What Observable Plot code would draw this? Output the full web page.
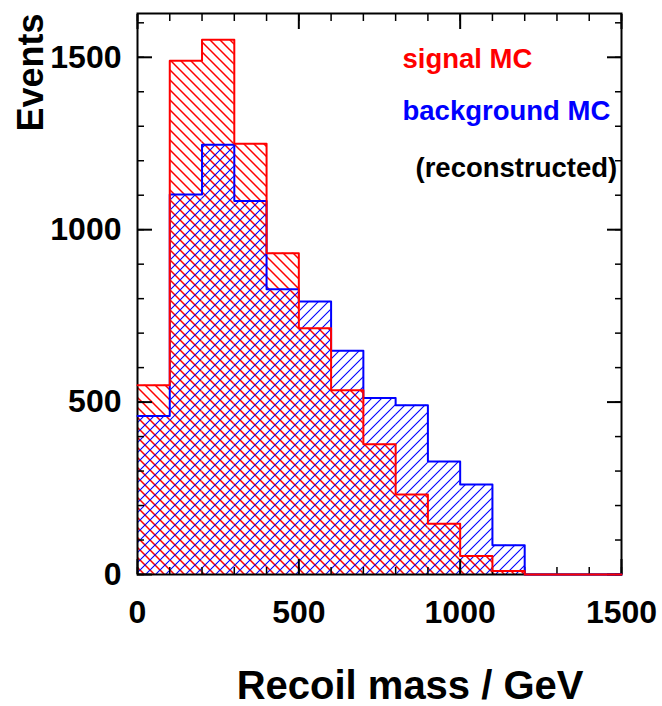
<!DOCTYPE html>
<html><head><meta charset="utf-8">
<script src="https://cdn.jsdelivr.net/npm/d3@7"></script>
<script src="https://cdn.jsdelivr.net/npm/@observablehq/plot@0.6"></script>
<style>body{margin:0;background:#fff}</style>
</head><body><div id="chart"></div>
<script>
// Recoil mass bins (GeV)
const binLow  = [0, 100, 200, 300, 400, 500, 600, 700, 800, 900, 1000, 1100, 1200, 1300, 1400];
const binHigh = [100, 200, 300, 400, 500, 600, 700, 800, 900, 1000, 1100, 1200, 1300, 1400, 1500];
// Events per bin
const signalMC     = [549, 1490, 1551, 1249, 932, 714, 534, 378, 232, 147, 54, 10, 0, 0, 0];
const backgroundMC = [460, 1102, 1246, 1083, 827, 792, 649, 512, 491, 328, 261, 85, 0, 0, 0];
// Axis ticks
const xMajor = [0, 500, 1000, 1500];
const xMinor = [0,100,200,300,400,500,600,700,800,900,1000,1100,1200,1300,1400,1500];
const yMajor = [0, 500, 1000, 1500];
const yMinor = [0,100,200,300,400,500,600,700,800,900,1000,1100,1200,1300,1400,1500,1600];
const legendTexts = ["signal MC", "background MC", "(reconstructed)"];

const bins = (vals) => binLow.map((lo, i) => ({x1: lo, x2: binHigh[i], y: vals[i]}));
const steps = (vals) => [...binLow.map((lo, i) => ({x: lo, y: vals[i]})), {x: binHigh[binHigh.length - 1], y: vals[vals.length - 1]}];

const font = '"Liberation Sans", Arial, Helvetica, sans-serif';
const blank = () => "";

const chart = Plot.plot({
  width: 662, height: 706,
  marginLeft: 137, marginRight: 41, marginTop: 13, marginBottom: 132,
  style: {fontFamily: font, background: "white"},
  x: {domain: [0, 1500], label: null},
  y: {domain: [0, 1627], label: null},
  marks: [
    Plot.rectY(bins(signalMC), {x1: "x1", x2: "x2", y: "y", fill: "url(#hatchRed)"}),
    Plot.rectY(bins(backgroundMC), {x1: "x1", x2: "x2", y: "y", fill: "url(#hatchBlue)"}),
    Plot.frame({stroke: "black", strokeWidth: 2}),
    // ticks inside on all sides
    Plot.axisX({anchor: "bottom", ticks: xMinor, tickSize: -7, tickFormat: blank, label: null, strokeWidth: 1.5}),
    Plot.axisX({anchor: "bottom", ticks: xMajor, tickSize: -15, tickFormat: blank, label: null, strokeWidth: 2}),
    Plot.axisX({anchor: "top", ticks: xMinor, tickSize: -7, tickFormat: blank, label: null, strokeWidth: 1.5}),
    Plot.axisX({anchor: "top", ticks: xMajor, tickSize: -15, tickFormat: blank, label: null, strokeWidth: 2}),
    Plot.axisY({anchor: "left", ticks: yMinor, tickSize: -7, tickFormat: blank, label: null, strokeWidth: 1.5}),
    Plot.axisY({anchor: "left", ticks: yMajor, tickSize: -15, tickFormat: blank, label: null, strokeWidth: 2}),
    Plot.axisY({anchor: "right", ticks: yMinor, tickSize: -7, tickFormat: blank, label: null, strokeWidth: 1.5}),
    Plot.axisY({anchor: "right", ticks: yMajor, tickSize: -15, tickFormat: blank, label: null, strokeWidth: 2}),
    Plot.line(steps(backgroundMC), {x: "x", y: "y", curve: "step-after", stroke: "#0000ff", strokeWidth: 2}),
    Plot.line(steps(signalMC), {x: "x", y: "y", curve: "step-after", stroke: "#ff0000", strokeWidth: 2}),
    // tick labels
    Plot.axisX({anchor: "bottom", ticks: xMajor, tickSize: 0, tickPadding: 26, tickFormat: d => String(d), label: null, fontSize: 32, fontWeight: "bold", fill: "black"}),
    Plot.axisY({anchor: "left", ticks: yMajor, tickSize: 0, tickPadding: 16, tickFormat: d => String(d), label: null, fontSize: 32, fontWeight: "bold", fill: "black"}),
    // axis titles
    Plot.text(["Events"], {frameAnchor: "top-left", dx: -95, dy: 0, rotate: -90, textAnchor: "end", lineAnchor: "bottom", fontSize: 36, fontWeight: "bold", fill: "black"}),
    Plot.text(["Recoil mass / GeV"], {frameAnchor: "bottom-right", dx: -38, dy: 124, textAnchor: "end", lineAnchor: "bottom", fontSize: 40, fontWeight: "bold", fill: "black"}),
    // legend
    Plot.text([legendTexts[0]], {frameAnchor: "top-left", dx: 265, dy: 54, textAnchor: "start", lineAnchor: "bottom", fontSize: 27.5, fontWeight: "bold", fill: "#ff0000"}),
    Plot.text([legendTexts[1]], {frameAnchor: "top-left", dx: 265, dy: 106, textAnchor: "start", lineAnchor: "bottom", fontSize: 27.5, fontWeight: "bold", fill: "#0000ff"}),
    Plot.text([legendTexts[2]], {frameAnchor: "top-left", dx: 278, dy: 163, textAnchor: "start", lineAnchor: "bottom", fontSize: 27.5, fontWeight: "bold", fill: "black"})
  ]
});

const ns = "http://www.w3.org/2000/svg";
const defs = document.createElementNS(ns, "defs");
defs.innerHTML =
  '<pattern id="hatchRed" patternUnits="userSpaceOnUse" width="10" height="10">' +
  '<path d="M-2,-2L12,12M-7,3L7,17M3,-7L17,7" stroke="#ff0000" stroke-width="1.5" fill="none"/></pattern>' +
  '<pattern id="hatchBlue" patternUnits="userSpaceOnUse" width="10" height="10">' +
  '<path d="M-2,12L12,-2M-7,7L7,-7M3,17L17,3" stroke="#0000ff" stroke-width="1.1" fill="none"/></pattern>';
chart.insertBefore(defs, chart.firstChild);
document.getElementById("chart").appendChild(chart);
</script>
</body></html>
